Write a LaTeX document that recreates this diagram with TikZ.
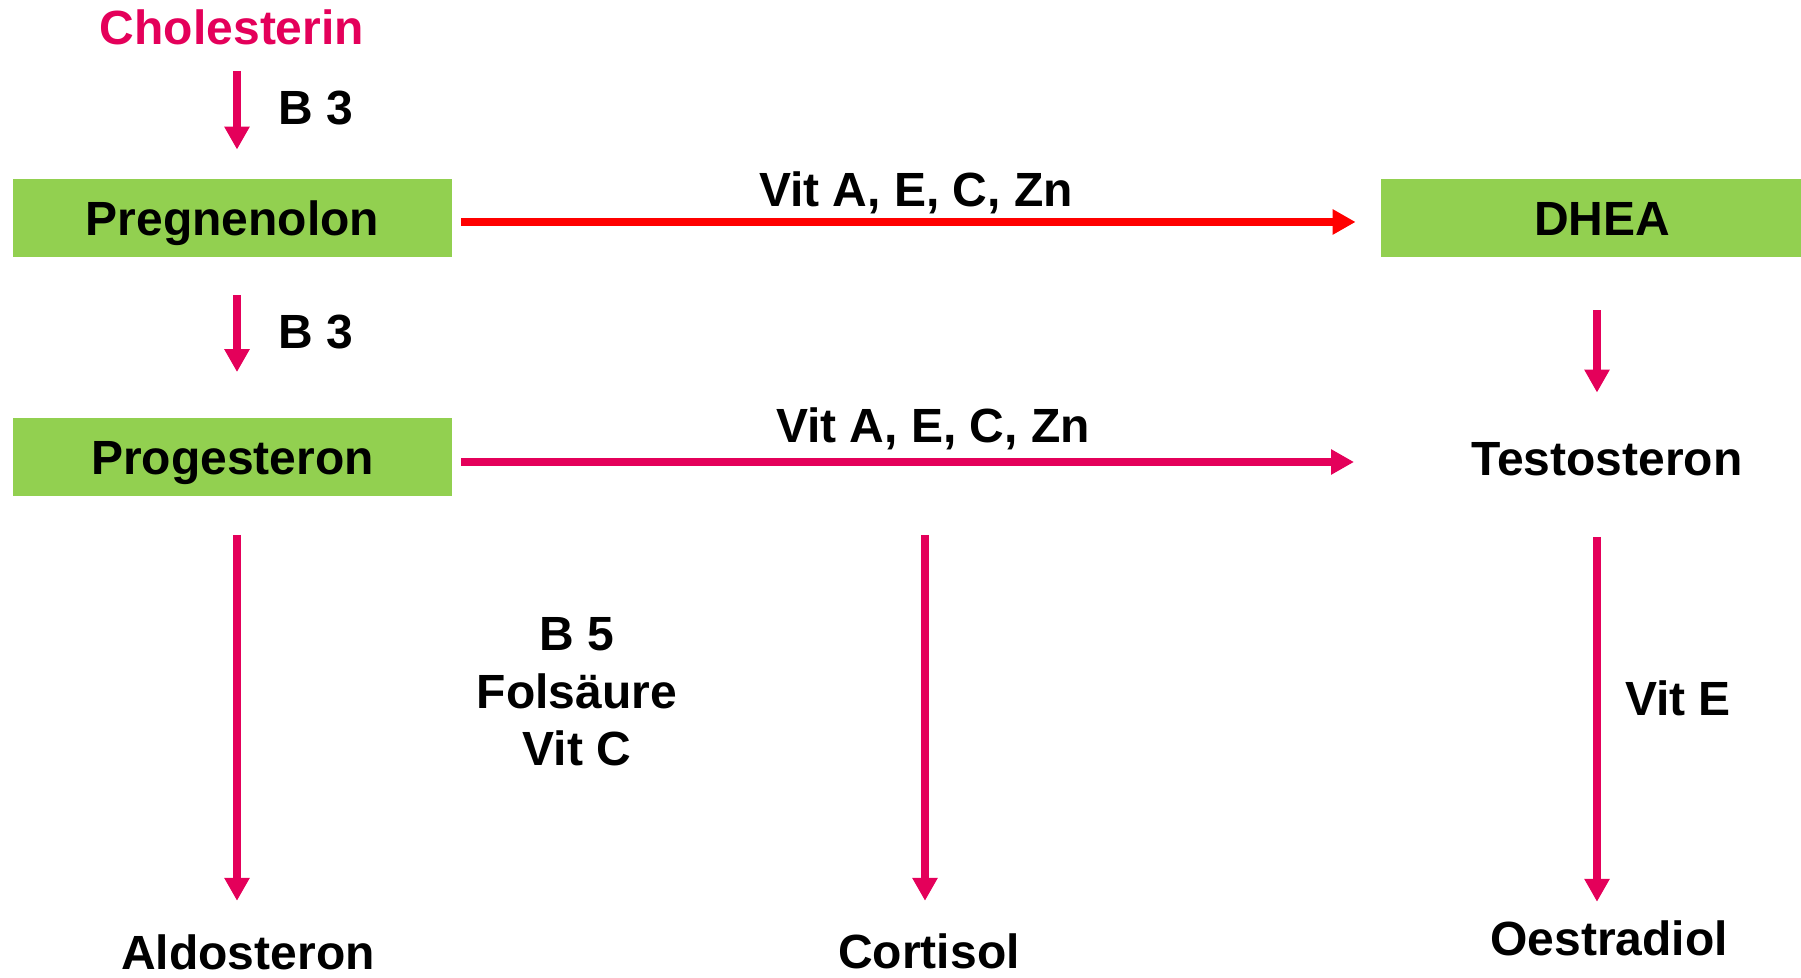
\documentclass[tikz,border=0pt]{standalone}
\usepackage{fontspec}
\setmainfont{Liberation Sans}
\usetikzlibrary{arrows.meta}
\definecolor{StepGreen}{HTML}{92D050}
\definecolor{StepPink}{HTML}{E4005A}
\definecolor{StepRed}{HTML}{FF0000}
\tikzset{
  every node/.style={inner sep=0pt,font=\bfseries\fontsize{24}{28.75}\selectfont},
  hormone/.style={anchor=base},
  stepbox/.style={fill=StepGreen,minimum height=39pt,text height=17.2pt,text depth=0pt},
  flow/.style={-{Triangle[length=11.5pt,width=12pt]},StepPink,line width=4pt},
  mainflow/.style={flow,StepRed},
}

\begin{document}
\begin{tikzpicture}[x=0.5pt,y=-0.5pt]
        \useasboundingbox (0,0) rectangle (1801,978);

        % precursor and first step
        \node[hormone,text=StepPink] (chol) at (232,45) {Cholesterin};
        \node[stepbox,minimum width=219.5pt] (preg) at (232.5,218) {Pregnenolon};
        \node[stepbox,minimum width=219.5pt] (prog) at (232.5,457.5) {Progesteron};
        \node[stepbox,minimum width=221pt] (dhea) at (1602,218) {DHEA};

        % products
        \node[hormone] (testo) at (1607,476) {Testosteron};
        \node[hormone] (aldo) at (248,969) {Aldosteron};
        \node[hormone] (cort) at (929,968) {Cortisol};
        \node[hormone] (oest) at (1609,955) {Oestradiol};

        % cofactors
        \node[anchor=base west] (b3a) at (278,125) {B 3};
        \node[anchor=base west] (b3b) at (278,349) {B 3};
        \node[hormone] (vit1) at (916,207) {Vit A, E, C, Zn};
        \node[hormone] (vit2) at (933,443) {Vit A, E, C, Zn};
        \node[align=center] (b5) at (577,692) {B 5\\Folsäure\\Vit C};
        \node[hormone] (vite) at (1678,716) {Vit E};

        % left column
        \draw[flow,shorten <=19pt,shorten >=16.5pt]
          ([xshift=2.25pt]prog.south) -- ([xshift=2.25pt]prog.south |- aldo.north);
        \draw[flow,shorten <=12.5pt,shorten >=14.5pt]
          ([xshift=2.5pt]chol.south) -- ([xshift=2.25pt]preg.north);
        \draw[flow,shorten <=19pt,shorten >=23pt]
          ([xshift=2.25pt]preg.south) -- ([xshift=2.25pt]prog.north);

        % across
        \draw[mainflow,shorten <=4.5pt,shorten >=12.5pt]
          ([yshift=-2pt]preg.east) -- ([yshift=-2pt]dhea.west);
        \draw[flow,shorten <=4.5pt,shorten >=58.5pt]
          ([yshift=-2.25pt]prog.east) -- ([yshift=-2.25pt]prog.east -| testo.west);

        % middle and right columns
        \draw[flow,shorten <=19pt,shorten >=16pt]
          ([xshift=-2pt]cort.north |- prog.south) -- ([xshift=-2pt]cort.north);
        \draw[flow,shorten <=26.5pt,shorten >=25pt]
          ([xshift=-2.5pt]dhea.south) -- ([xshift=-2.5pt]dhea.south |- testo.north);
        \draw[flow,shorten <=30pt,shorten >=9pt]
          ([xshift=-2.5pt]dhea.south |- testo.south) -- ([xshift=-2.5pt]dhea.south |- oest.north);
      \end{tikzpicture}
\end{document}
